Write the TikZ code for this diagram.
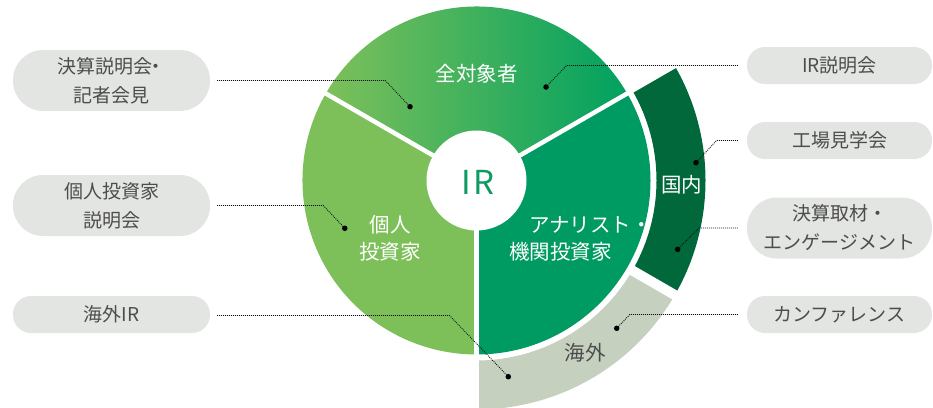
\documentclass[tikz,border=0pt]{standalone}
\usepackage{fontspec}
\setmainfont{Noto Sans CJK JP}
\usetikzlibrary{calc}
\definecolor{gleft}{HTML}{7DC05A}
\definecolor{gmid}{HTML}{35B25C}
\definecolor{gright}{HTML}{00A160}
\definecolor{gsecR}{HTML}{009B62}
\definecolor{gsecL}{HTML}{7DC05A}
\definecolor{gdark}{HTML}{00683A}
\definecolor{ggrey}{HTML}{C5D0BF}
\definecolor{pillbg}{HTML}{E3E5E2}
\definecolor{pilltxt}{HTML}{4D4D4D}
\definecolor{irgreen}{HTML}{0F9A62}
\definecolor{dotcol}{HTML}{111111}
\begin{document}
\begin{tikzpicture}[x=1pt,y=1pt,
  pill/.style={fill=pillbg, text=pilltxt, minimum width=197pt, inner sep=0pt,
    align=center, font=\fontsize{19}{29}\selectfont},
  pilltall/.style={pill, minimum height=61pt, rounded corners=30pt},
  pillshort/.style={pill, minimum height=37pt, rounded corners=18pt},
  rpill/.style={minimum width=185pt},
  seclabel/.style={text=white, inner sep=0pt, font=\fontsize{20.5}{27}\selectfont},
  dotline/.style={draw=dotcol, line width=0.9pt, dash pattern=on 0.9pt off 1.1pt},
  dotmark/.style={circle, fill=black, inner sep=0pt, minimum size=5.5pt},
  gapline/.style={white, line width=4.5pt}]
\useasboundingbox (0,0) rectangle (933,-407);
\clip (0,0) rectangle (933,-407);
\coordinate (c) at (476.5,-180.5);

% outer rings
\fill[gdark] ($(c)+(30:180)$) arc[start angle=30,end angle=-30,radius=180pt]
  -- ($(c)+(-30:229)$) arc[start angle=-30,end angle=30,radius=229pt] -- cycle;
\fill[ggrey] ($(c)+(-30:180)$) arc[start angle=-30,end angle=-90,radius=180pt]
  -- ($(c)+(-90:229)$) arc[start angle=-90,end angle=-30,radius=229pt] -- cycle;

% sectors
\shade[left color=gleft, middle color=gmid, right color=gright]
  (c) -- ($(c)+(150:174)$) arc[start angle=150,end angle=30,radius=174pt] -- cycle;
\fill[gsecL] (c) -- ($(c)+(150:174)$) arc[start angle=150,end angle=270,radius=174pt] -- cycle;
\fill[gsecR] (c) -- ($(c)+(-90:174)$) arc[start angle=-90,end angle=30,radius=174pt] -- cycle;

% dividers
\draw[gapline] (c) -- ($(c)+(150:176)$);
\draw[gapline] (c) -- ($(c)+(30:236)$);
\draw[gapline] (c) -- ($(c)+(270:236)$);
\draw[white, line width=10pt] ($(c)+(-30:176)$) -- ($(c)+(-30:236)$);

% inner circle
\fill[white] (c) circle[radius=50pt];
\node[text=irgreen, inner sep=0pt, font=\fontsize{33}{33}\selectfont] (ir) at (478,-182) {I\kern2pt R};

% sector labels
\node[seclabel] (tall) at (476.7,-74) {全対象者};
\node[seclabel] (tind1) at (390,-225) {個人};
\node[seclabel] (tind2) at (390,-251.7) {投資家};
\node[seclabel] (tana1) at (590.5,-225) {アナリスト・};
\node[seclabel] (tana2) at (560.5,-251.7) {機関投資家};
\node[seclabel] (tdom) at (681.7,-185) {国内};
\node[seclabel, text=pilltxt] (tov) at (585,-353) {海外};

% pills
\node[pilltall] (L1) at (111.5,-80.5) {決算説明会\kern-6pt・\\記者会見};
\node[pilltall] (L2) at (111.5,-205.5) {個人投資家\\説明会};
\node[pillshort] (L3) at (111.5,-314.5) {海外IR};
\node[pillshort, rpill] (R1) at (839.5,-65.5) {IR説明会};
\node[pillshort, rpill] (R2) at (839.5,-140.5) {工場見学会};
\node[pilltall, rpill] (R3) at (839.5,-228) {決算取材・\\エンゲージメント};
\node[pillshort, rpill] (R4) at (839.5,-314.5) {カンファレンス};

% dots
\node[dotmark] (d1) at (410,-106.7) {};
\node[dotmark] (d2) at (344.8,-228.3) {};
\node[dotmark] (d3) at (508.3,-376.7) {};
\node[dotmark] (e1) at (546,-87) {};
\node[dotmark] (e2) at (696,-162.7) {};
\node[dotmark] (e3) at (677.7,-249.3) {};
\node[dotmark] (e4) at (616.7,-328.3) {};

% connectors
\draw[dotline] ([xshift=7pt]L1.east) -- ([xshift=175pt]L1.east) -- (d1.center);
\draw[dotline] ([xshift=7pt]L2.east) -- ([xshift=113pt]L2.east) -- (d2.center);
\draw[dotline] ([xshift=7pt,yshift=-1pt]L3.east) -- ([xshift=239.3pt,yshift=-1pt]L3.east) -- (d3.center);
\draw[dotline] ([xshift=-9pt]R1.west) -- ([xshift=-180.3pt]R1.west) -- (e1.center);
\draw[dotline] ([xshift=-9pt]R2.west) -- ([xshift=-30.3pt]R2.west) -- (e2.center);
\draw[dotline] ([xshift=-9pt]R3.west) -- ([xshift=-47.7pt]R3.west) -- (e3.center);
\draw[dotline] ([xshift=-9pt]R4.west) -- ([xshift=-117pt]R4.west) -- (e4.center);
\end{tikzpicture}
\end{document}
